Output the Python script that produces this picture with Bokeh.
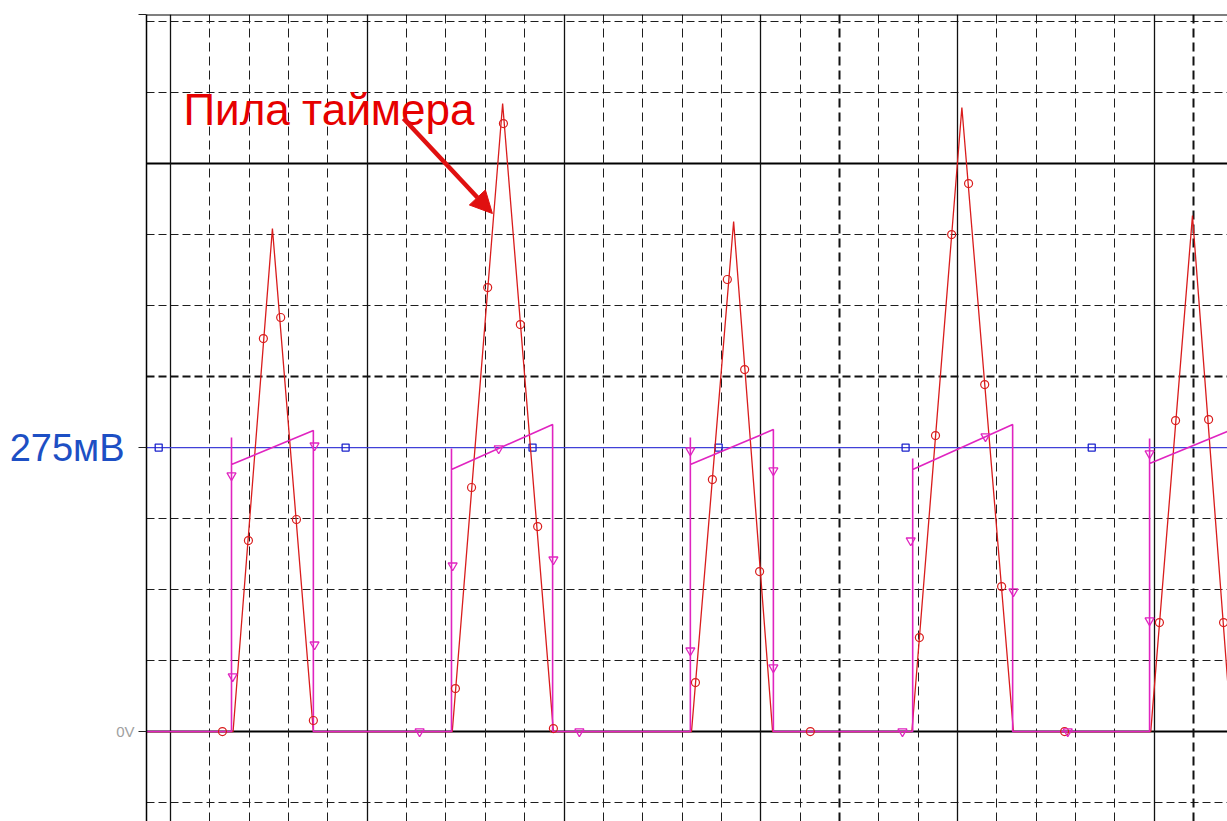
from bokeh.plotting import figure
from bokeh.models import Range1d, LinearAxis, FixedTicker, Grid, Label, Arrow, NormalHead, Span
from bokeh.embed import file_html
from bokeh.resources import INLINE

# ---- data (x in time divisions, y in mV) ----
saw_x = [-0.61, 1.59, 2.59, 3.63, 7.16, 8.44, 9.73, 13.24, 14.31, 15.30,
         18.84, 20.11, 21.42, 24.91, 25.97, 26.96]
saw_y = [0, 0, 487.1, 0, 0, 608.1, 0, 0, 493.8, 0,
         0, 604.2, 0, 0, 499.6, 0]

saw_mk_x = [1.32, 1.98, 2.36, 2.80, 3.20, 3.63,
            7.24, 7.65, 8.06, 8.46, 8.89, 9.33, 9.73,
            13.34, 13.77, 14.15, 14.59, 14.97, 16.26,
            19.03, 19.44, 19.85, 20.28, 20.69, 21.12, 22.72,
            25.13, 25.54, 26.38, 26.76]
saw_mk_y = [0, 184.9, 380.5, 400.9, 205.3, 10.7,
            41.6, 236.3, 429.9, 588.7, 394.1, 198.5, 2.9,
            47.4, 244.0, 437.7, 350.5, 154.9, 0,
            91.0, 286.6, 481.2, 530.6, 336.0, 140.4, 0,
            105.5, 301.1, 302.1, 105.5]

pulse_x = [-0.61, 1.55, 1.55, 1.55, 3.63, 3.63,
           7.14, 7.14, 7.14, 9.71, 9.71,
           13.21, 13.21, 13.21, 15.32, 15.32,
           18.86, 18.86, 18.86, 21.40, 21.40,
           24.88, 24.88, 24.88, 26.86]
pulse_y = [0, 0, 284.7, 258.5, 291.5, 0,
           0, 274.0, 253.7, 297.3, 0,
           0, 284.7, 258.5, 292.4, 0,
           0, 264.3, 253.7, 297.3, 0,
           0, 283.7, 259.5, 290.5]

pulse_mk_x = [1.55, 1.58, 3.66, 3.66, 6.33, 7.17, 8.34, 9.73, 10.39,
              13.21, 13.21, 15.32, 15.32, 18.60, 18.81, 20.71, 21.42, 22.80,
              24.88, 24.88]
pulse_mk_y = [247.9, 53.3, 276.9, 84.2, 0, 160.7, 274.0, 166.5, 0,
              272.1, 78.4, 252.7, 62.0, 0, 184.9, 285.7, 135.6, 0,
              269.2, 107.5]

ref_x = [-0.61, 26.86]
ref_y = [275, 275]
ref_mk_x = [-0.30, 4.45, 9.20, 13.93, 18.68, 23.41]
ref_mk_y = [275, 275, 275, 275, 275, 275]

y_ticks = [0, 275, 694]
y_tick_labels = {0: "0V", 275: "", 694: ""}
level_ticks = [275]
level_labels = {275: "275мВ"}

h_dash = [-68.75, 68.75, 137.5, 206.25, 275, 412.5, 481.25, 618.75, 687.5]
h_dash_bold = [343.75]
h_solid = [0, 550]
v_solid = [0, 5, 10, 15, 20, 25]
v_dash = [1, 2, 3, 4, 6, 7, 8, 9, 11, 12, 13, 14, 16, 18, 19, 21, 22, 23, 24]
v_dash_bold = [17, 26]

RED = "#d91c1c"
MAG = "#e024c0"
BLUE = "#4040d8"

p = figure(width=1227, height=821, output_backend="svg", toolbar_location=None,
           x_range=Range1d(-0.61, 26.86), y_range=Range1d(-87.1, 694.3),
           x_axis_type=None, y_axis_type=None,
           min_border_left=146, min_border_top=14, min_border_right=0, min_border_bottom=0,
           outline_line_color=None, background_fill_color="white", border_fill_color="white")

def add_grid(dim, ticks, color, width, dash):
    g = Grid(dimension=dim, ticker=FixedTicker(ticks=ticks), grid_line_color=color,
             grid_line_width=width, grid_line_dash=dash)
    p.add_layout(g)

add_grid(1, h_dash, "#1e1e1e", 1, "8 4")
add_grid(1, h_dash_bold, "#111111", 2, "8 4")
add_grid(1, h_solid, "#000000", 2, "solid")
add_grid(0, v_dash, "#1e1e1e", 1, "9 5")
add_grid(0, v_dash_bold, "#111111", 2, "9 5")
add_grid(0, v_solid, "#111111", 1.3, "solid")

yaxis = LinearAxis(ticker=FixedTicker(ticks=y_ticks), major_label_overrides=y_tick_labels,
                   major_tick_out=8, major_tick_in=0, minor_tick_out=0, minor_tick_in=0,
                   axis_line_color="#000000", axis_line_width=1.5,
                   major_tick_line_color="#222222",
                   major_label_text_font="Liberation Sans", major_label_text_font_size="15px",
                   major_label_text_color="#a0a0a0", major_label_standoff=4)
p.add_layout(yaxis, "left")

level_axis = LinearAxis(ticker=FixedTicker(ticks=level_ticks), major_label_overrides=level_labels,
                        major_tick_out=0, major_tick_in=0, minor_tick_out=0, minor_tick_in=0,
                        axis_line_color=None, major_tick_line_color=None,
                        major_label_text_font="Liberation Sans", major_label_text_font_size="38px",
                        major_label_text_color="#1d4fc4", major_label_standoff=-11)
p.add_layout(level_axis, "left")

p.add_layout(Span(location=694, dimension="width", line_color="#000000", line_width=1.5))

# reference level
p.line(ref_x, ref_y, line_color=BLUE, line_width=1.2)
p.scatter(ref_mk_x, ref_mk_y, marker="square", size=7, fill_color=None,
          line_color="#1c24cc", line_width=1.3)

# timer saw
p.line(saw_x, saw_y, line_color=RED, line_width=1.3)
# pulse
p.line(pulse_x, pulse_y, line_color=MAG, line_width=1.6)

p.scatter(saw_mk_x, saw_mk_y, marker="circle", size=8, fill_color=None,
          line_color=RED, line_width=1.2)
p.scatter(pulse_mk_x, pulse_mk_y, marker="inverted_triangle", size=9, fill_color=None,
          line_color=MAG, line_width=1.3)

p.add_layout(Label(x=0.33, y=602.3, text="Пила таймера", text_color="#e60000",
                   text_font="Liberation Sans",
                   text_font_size="44px", text_baseline="alphabetic", text_align="left"))
p.add_layout(Arrow(end=NormalHead(size=22, fill_color="#e01010", line_color="#e01010"),
                   x_start=5.92, y_start=593.6, x_end=8.18, y_end=501.6,
                   line_color="#e01010", line_width=4.5))

open("out.html", "w").write(file_html(p, INLINE))
